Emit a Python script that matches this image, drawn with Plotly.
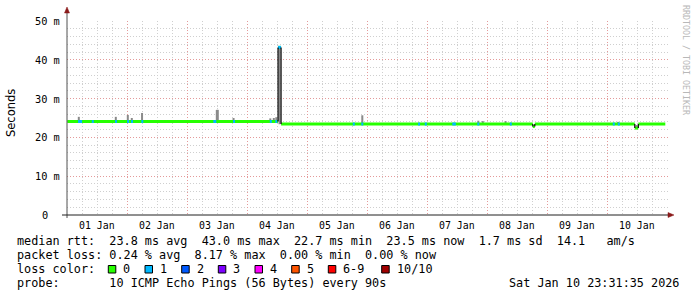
import plotly.graph_objects as go

# ---------------- data ----------------
day_labels = ["01 Jan", "02 Jan", "03 Jan", "04 Jan", "05 Jan",
              "06 Jan", "07 Jan", "08 Jan", "09 Jan", "10 Jan"]
day_label_hours = [12, 36, 60, 84, 108, 132, 156, 180, 204, 228]
y_tick_vals = [0, 10, 20, 30, 40, 50]
y_tick_text = ["0", "10 m", "20 m", "30 m", "40 m", "50 m"]

# median rtt in ms, step segments beginning at med_hours (hours since 01 Jan 00:00)
med_hours = [0.0, 84.3, 85.5, 186.2, 187.0, 227.0, 228.4, 239.2]
med_ms = [24.1, 43.2, 23.45, 22.8, 23.45, 22.4, 23.45, 23.45]

# packet loss periods (hours) and number of lost pings
loss_start = [4.3, 9.8, 19.1, 23.9, 25.5, 29.6, 58.4, 66.3, 81.0, 83.2, 84.3,
              114.2, 117.6, 140.3, 143.0, 154.0, 164.0, 177.0, 218.2, 220.2]
loss_end = [5.9, 10.6, 19.9, 24.7, 26.3, 30.4, 59.6, 67.1, 81.8, 84.0, 85.5,
            115.0, 118.4, 141.1, 143.8, 155.4, 164.8, 177.8, 219.0, 221.0]
loss_level = [1] * 20

# smoke (ping spread) tops in ms
smoke_hours = [4.6, 19.4, 24.2, 25.8, 29.9, 59.8, 60.2, 66.5, 81.2, 82.6, 83.6, 84.9,
               118.0, 164.4, 166.2, 175.3, 186.6, 220.3, 227.7]
smoke_top = [25.3, 25.3, 25.8, 25.0, 26.3, 27.1, 27.1, 25.0, 24.9, 25.0, 25.2, 43.0,
             25.7, 24.3, 24.2, 24.2, 23.2, 24.0, 23.2]

loss_labels = ["0", "1", "2", "3", "4", "5", "6-9", "10/10"]
loss_colors = ["#26ff00", "#00b8ff", "#0059ff", "#7e00ff", "#ff00ff",
               "#ff5500", "#ff0000", "#a10000"]

stats_rtt = "median rtt:  23.8 ms avg  43.0 ms max  22.7 ms min  23.5 ms now  1.7 ms sd  14.1   am/s"
stats_loss = "packet loss: 0.24 % avg  8.17 % max  0.00 % min  0.00 % now"
probe_text = "probe:       10 ICMP Echo Pings (56 Bytes) every 90s"
date_text = "Sat Jan 10 23:31:35 2026"

# ---------------- layout geometry (pixels) ----------------
W, H = 697, 297
L, R, T, B = 67, 668, 21, 215
PW, PH = R - L, B - T


def px(x):
    return (x - L) / PW


def py(y):
    return (B - y) / PH


def nb(s):
    return s.replace(" ", "\u00a0")


def med_at(h):
    v = med_ms[0]
    for i in range(len(med_hours) - 1):
        if med_hours[i] <= h:
            v = med_ms[i]
    return v


MONO = "DejaVu Sans Mono"

fig = go.Figure()

# smoke
sx, sy = [], []
for h, top in zip(smoke_hours, smoke_top):
    base = 23.4 if top > 40 else med_at(h)
    sx += [h, h, None]
    sy += [base, top, None]
fig.add_trace(go.Scatter(x=sx, y=sy, mode="lines", line=dict(color="#8a8a8a", width=2),
                         hoverinfo="skip", showlegend=False))

# median segments (loss 0 color)
gx, gy = [], []
for i in range(len(med_hours) - 1):
    gx += [med_hours[i], med_hours[i + 1], None]
    gy += [med_ms[i], med_ms[i], None]
fig.add_trace(go.Scatter(x=gx, y=gy, mode="lines", line=dict(color=loss_colors[0], width=3),
                         hoverinfo="skip", showlegend=False))

# loss overlays
for lvl in sorted(set(loss_level)):
    lx, ly = [], []
    for s, e, l in zip(loss_start, loss_end, loss_level):
        if l == lvl:
            v = med_at((s + e) / 2)
            lx += [s, e, None]
            ly += [v, v, None]
    fig.add_trace(go.Scatter(x=lx, y=ly, mode="lines",
                             line=dict(color=loss_colors[lvl], width=3),
                             hoverinfo="skip", showlegend=False))

# vertical transitions in black
bx, by = [], []
for i in range(1, len(med_hours) - 1):
    bx += [med_hours[i], med_hours[i], None]
    by += [med_ms[i - 1], med_ms[i], None]
fig.add_trace(go.Scatter(x=bx, y=by, mode="lines", line=dict(color="#000000", width=1.2),
                         hoverinfo="skip", showlegend=False))

annotations = []
# y tick labels
for v, t in zip(y_tick_vals, y_tick_text):
    annotations.append(dict(x=px(44.5 if v == 0 else 47.5), y=v, xref="paper", yref="y",
                            text=nb(t), showarrow=False, xanchor="center", yanchor="middle",
                            font=dict(family=MONO, size=10.3, color="#000000"), borderpad=0))
# x labels
for h, t in zip(day_label_hours, day_labels):
    annotations.append(dict(x=h, y=py(225), xref="x", yref="paper", text=nb(t),
                            showarrow=False, xanchor="center", yanchor="middle",
                            font=dict(family=MONO, size=9.9, color="#000000"), borderpad=0))
# y title
annotations.append(dict(x=px(11), y=py(113), xref="paper", yref="paper", text="Seconds",
                        textangle=-90, showarrow=False, xanchor="center", yanchor="middle",
                        font=dict(family="DejaVu Sans", size=11.5, color="#000000"), borderpad=0))
# watermark
annotations.append(dict(x=px(686), y=py(60), xref="paper", yref="paper",
                        text=nb("RRDTOOL / TOBI OETIKER"), textangle=90, showarrow=False,
                        xanchor="center", yanchor="middle",
                        font=dict(family=MONO, size=8.3, color="#b8b8b8"), borderpad=0))

legend_font = dict(family=MONO, size=11.8, color="#000000")
for txt, yy in [(stats_rtt, 241), (stats_loss, 255), ("loss color:", 269), (probe_text, 283)]:
    annotations.append(dict(x=px(16), y=py(yy), xref="paper", yref="paper", text=nb(txt),
                            showarrow=False, xanchor="left", yanchor="middle",
                            font=legend_font, borderpad=0))
annotations.append(dict(x=px(680), y=py(283), xref="paper", yref="paper", text=nb(date_text),
                        showarrow=False, xanchor="right", yanchor="middle",
                        font=legend_font, borderpad=0))

shapes = []
box_x = [108.3, 145, 181.7, 218.3, 255, 291.7, 328.3, 381.7]
for bxp, lab, col in zip(box_x, loss_labels, loss_colors):
    shapes.append(dict(type="rect", xref="paper", yref="paper",
                       x0=px(bxp), x1=px(bxp + 7.5), y0=py(265.5), y1=py(273),
                       fillcolor=col, line=dict(color="#000000", width=1)))
    annotations.append(dict(x=px(bxp + 14), y=py(269), xref="paper", yref="paper",
                            text=nb(lab), showarrow=False, xanchor="left", yanchor="middle",
                            font=legend_font, borderpad=0))

# axis lines and arrows
shapes.append(dict(type="line", xref="paper", yref="paper", x0=px(67), x1=px(67),
                   y0=py(218), y1=py(13), line=dict(color="#505050", width=1)))
shapes.append(dict(type="line", xref="paper", yref="paper", x0=px(62), x1=px(669),
                   y0=py(215), y1=py(215), line=dict(color="#202020", width=1)))
shapes.append(dict(type="path", xref="paper", yref="paper",
                   path=f"M {px(64.5)} {py(13)} L {px(69.5)} {py(13)} L {px(67)} {py(7)} Z",
                   fillcolor="#8b1a1a", line=dict(color="#8b1a1a", width=0.5)))
shapes.append(dict(type="path", xref="paper", yref="paper",
                   path=f"M {px(668)} {py(212.5)} L {px(668)} {py(217.5)} L {px(674)} {py(215)} Z",
                   fillcolor="#8b1a1a", line=dict(color="#8b1a1a", width=0.5)))

fig.update_layout(
    width=W, height=H, autosize=False,
    margin=dict(l=L, r=W - R, t=T, b=H - B, pad=0),
    paper_bgcolor="#ffffff", plot_bgcolor="#ffffff",
    showlegend=False,
    annotations=annotations, shapes=shapes,
    xaxis=dict(range=[-0.12, 240.28], tickmode="linear", tick0=0, dtick=24,
               showticklabels=False, ticks="", showgrid=True, gridcolor="#e49a9a",
               griddash="1px,2px", gridwidth=1, zeroline=False, showline=False,
               minor=dict(dtick=6, tick0=0, showgrid=True, gridcolor="#cfcfcf",
                          griddash="1px,2px", gridwidth=1)),
    yaxis=dict(range=[0, 50], tickmode="linear", tick0=0, dtick=10,
               showticklabels=False, ticks="", showgrid=True, gridcolor="#e49a9a",
               griddash="1px,2px", gridwidth=1, zeroline=False, showline=False,
               minor=dict(dtick=2, tick0=0, showgrid=True, gridcolor="#cfcfcf",
                          griddash="1px,2px", gridwidth=1)),
)

fig.write_html("out.html", config={"displayModeBar": False})
